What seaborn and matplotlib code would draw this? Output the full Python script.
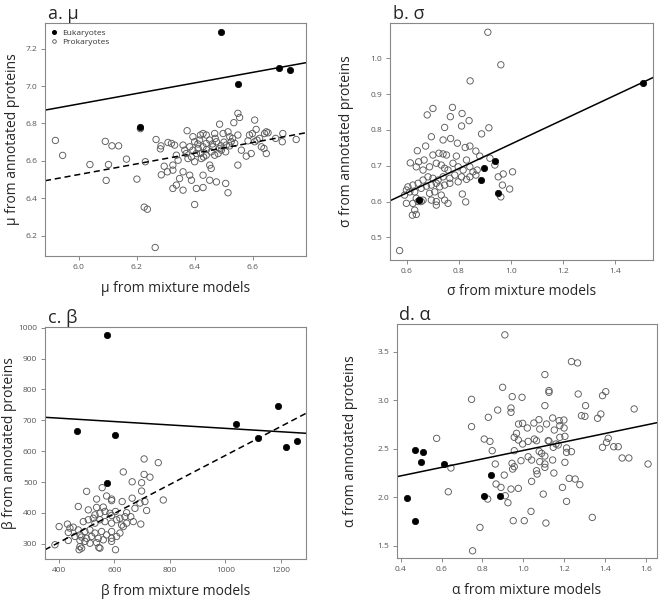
import pandas as pd
import matplotlib
matplotlib.use("Agg")
import matplotlib.pyplot as plt
import seaborn as sns
from matplotlib.lines import Line2D

# ---- panel a: mu ----
mu_pro = [
    (5.919, 6.709), (5.944, 6.629), (6.038, 6.580), (6.094, 6.495), (6.091, 6.704),
    (6.114, 6.680), (6.137, 6.680), (6.102, 6.580), (6.164, 6.609), (6.200, 6.502),
    (6.229, 6.595), (6.225, 6.352), (6.236, 6.341), (6.263, 6.136), (6.266, 6.714),
    (6.281, 6.664), (6.283, 6.680), (6.284, 6.525), (6.294, 6.571), (6.307, 6.698),
    (6.305, 6.541), (6.212, 6.772),
    (6.548, 6.854), (6.554, 6.832), (6.534, 6.804), (6.606, 6.818), (6.485, 6.796),
    (6.468, 6.746), (6.373, 6.761), (6.428, 6.746), (6.419, 6.738), (6.393, 6.729),
    (6.399, 6.702), (6.439, 6.738), (6.497, 6.746), (6.514, 6.755), (6.520, 6.729),
    (6.548, 6.738), (6.588, 6.738), (6.598, 6.746), (6.611, 6.768), (6.623, 6.720),
    (6.640, 6.746), (6.646, 6.755), (6.652, 6.750), (6.583, 6.707), (6.606, 6.702),
    (6.614, 6.711), (6.629, 6.675), (6.638, 6.666), (6.646, 6.639), (6.703, 6.746),
    (6.701, 6.702), (6.678, 6.720), (6.749, 6.714), (6.560, 6.657), (6.548, 6.577),
    (6.594, 6.639), (6.577, 6.625), (6.537, 6.693), (6.525, 6.702), (6.508, 6.684),
    (6.506, 6.648), (6.485, 6.666), (6.474, 6.702), (6.462, 6.675), (6.451, 6.711),
    (6.439, 6.693), (6.428, 6.675), (6.416, 6.711), (6.411, 6.666), (6.405, 6.639),
    (6.393, 6.657), (6.382, 6.675), (6.388, 6.621), (6.399, 6.595), (6.376, 6.612),
    (6.370, 6.639), (6.365, 6.657), (6.359, 6.684), (6.422, 6.612), (6.439, 6.630),
    (6.456, 6.648), (6.468, 6.630), (6.480, 6.639), (6.491, 6.657), (6.451, 6.577),
    (6.456, 6.559), (6.428, 6.523), (6.382, 6.523), (6.388, 6.496), (6.359, 6.541),
    (6.347, 6.505), (6.336, 6.470), (6.324, 6.452), (6.359, 6.443), (6.405, 6.452),
    (6.428, 6.457), (6.451, 6.496), (6.474, 6.487), (6.506, 6.479), (6.514, 6.429),
    (6.399, 6.366), (6.324, 6.577), (6.324, 6.550), (6.319, 6.693), (6.330, 6.684),
    (6.336, 6.630), (6.342, 6.603), (6.420, 6.640), (6.440, 6.660), (6.460, 6.690),
    (6.500, 6.700), (6.520, 6.680), (6.410, 6.690), (6.470, 6.720), (6.530, 6.720),
    (6.490, 6.680), (6.430, 6.620),
]
mu_euk = [(6.491, 7.289), (6.689, 7.096), (6.729, 7.087), (6.548, 7.009), (6.210, 6.779)]
# (slope, intercept, linestyle)
mu_fits = [(0.2822, 5.211, "-"), (0.2856, 4.813, "--")]

# ---- panel b: sigma ----
sigma_pro = [
    (0.911, 1.073), (0.961, 0.982), (0.843, 0.937),
    (0.700, 0.860), (0.678, 0.842), (0.775, 0.863), (0.767, 0.837), (0.812, 0.846),
    (0.839, 0.826), (0.810, 0.811), (0.915, 0.806), (0.745, 0.807), (0.694, 0.781),
    (0.768, 0.776), (0.887, 0.789), (0.739, 0.772), (0.672, 0.755), (0.794, 0.763),
    (0.842, 0.755), (0.824, 0.751), (0.640, 0.742), (0.865, 0.741), (0.880, 0.727),
    (0.700, 0.730), (0.723, 0.735), (0.739, 0.733), (0.752, 0.730), (0.790, 0.727),
    (0.829, 0.716), (0.613, 0.708), (0.645, 0.711), (0.666, 0.716), (0.636, 0.697),
    (0.662, 0.688), (0.687, 0.697), (0.713, 0.707), (0.732, 0.702), (0.745, 0.693),
    (0.758, 0.688), (0.777, 0.707), (0.797, 0.697), (0.816, 0.688), (0.842, 0.697),
    (0.854, 0.683), (0.865, 0.674), (0.870, 0.688), (0.842, 0.669), (0.829, 0.662),
    (0.810, 0.669), (0.784, 0.674), (0.765, 0.665), (0.739, 0.669), (0.720, 0.660),
    (0.700, 0.665), (0.681, 0.669), (0.662, 0.660), (0.643, 0.651), (0.623, 0.646),
    (0.604, 0.641), (0.598, 0.632), (0.611, 0.627), (0.591, 0.618), (0.630, 0.627),
    (0.655, 0.637), (0.675, 0.643), (0.694, 0.646), (0.713, 0.651), (0.726, 0.641),
    (0.745, 0.646), (0.765, 0.651), (0.797, 0.655), (0.687, 0.623), (0.707, 0.627),
    (0.732, 0.618), (0.745, 0.604), (0.758, 0.595), (0.713, 0.590), (0.713, 0.600),
    (0.694, 0.604), (0.662, 0.604), (0.636, 0.609), (0.649, 0.604), (0.655, 0.600),
    (0.643, 0.600), (0.623, 0.595), (0.598, 0.595), (0.630, 0.576), (0.621, 0.562),
    (0.636, 0.564), (0.813, 0.621), (0.826, 0.599), (0.572, 0.463), (0.951, 0.669),
    (0.970, 0.677), (1.006, 0.683), (0.967, 0.646), (0.961, 0.613), (0.938, 0.702),
    (0.919, 0.721), (0.995, 0.635),
]
sigma_euk = [(0.940, 0.713), (0.895, 0.695), (0.886, 0.660), (0.951, 0.623),
             (1.509, 0.930), (0.646, 0.604)]
sigma_fits = [(0.3405, 0.420, "-")]

# ---- panel c: beta ----
beta_pro = [
    (707, 575), (758, 563), (632, 533), (707, 525), (728, 516), (664, 501), (698, 498),
    (500, 470), (556, 482), (698, 471), (572, 455), (590, 445), (664, 448), (776, 442),
    (536, 445), (590, 440), (710, 437), (628, 437), (470, 421), (506, 410), (536, 418),
    (560, 419), (644, 401), (674, 415), (716, 408), (692, 432), (530, 394), (548, 399),
    (566, 405), (584, 399), (604, 405), (620, 383), (638, 388), (659, 388), (590, 392),
    (524, 383), (506, 378), (488, 372), (530, 367), (548, 378), (566, 372), (590, 367),
    (608, 378), (626, 361), (644, 367), (668, 372), (695, 364), (401, 356), (431, 364),
    (440, 351), (452, 354), (470, 345), (494, 340), (512, 345), (530, 335), (554, 340),
    (572, 329), (590, 340), (608, 324), (632, 356), (620, 335), (434, 337), (476, 329),
    (482, 322), (500, 318), (518, 324), (542, 318), (560, 313), (590, 318), (458, 324),
    (434, 311), (476, 311), (494, 308), (512, 302), (536, 304), (590, 308), (476, 291),
    (473, 281), (482, 286), (548, 286), (604, 281), (386, 297), (544, 288),
]
beta_euk = [(575, 977), (465, 666), (604, 654), (575, 497), (1037, 688), (1116, 644),
            (1188, 745), (1218, 614), (1258, 632)]
beta_fits = [(-0.0551, 729.2, "-"), (0.4702, 116.3, "--")]

# ---- panel d: alpha ----
alpha_pro = [
    (0.910, 3.672), (0.899, 3.132), (0.747, 3.008), (0.946, 3.036), (0.994, 3.029),
    (0.875, 2.898), (0.940, 2.919), (0.940, 2.874), (0.829, 2.823), (0.747, 2.727),
    (0.977, 2.754), (0.997, 2.761), (0.967, 2.658), (0.956, 2.617), (0.976, 2.589),
    (0.576, 2.606), (0.809, 2.599), (0.837, 2.575), (0.848, 2.479), (0.997, 2.548),
    (0.989, 2.376), (0.956, 2.479), (0.863, 2.342), (0.945, 2.349), (0.948, 2.290),
    (0.956, 2.314), (0.907, 2.228), (0.646, 2.301), (0.867, 2.136), (0.891, 2.101),
    (0.940, 2.084), (0.976, 2.091), (0.633, 2.056), (0.912, 2.015), (0.826, 1.981),
    (0.925, 1.943), (0.951, 1.758), (1.005, 1.758), (0.788, 1.689), (0.752, 1.448),
    (1.236, 3.397), (1.266, 3.383), (1.106, 3.263), (1.126, 3.098), (1.126, 3.080),
    (1.269, 3.063), (1.388, 3.046), (1.404, 3.087), (1.106, 2.943), (1.305, 2.943),
    (1.285, 2.840), (1.302, 2.833), (1.364, 2.813), (1.380, 2.857), (1.543, 2.909),
    (1.020, 2.713), (1.052, 2.764), (1.077, 2.799), (1.114, 2.754), (1.144, 2.816),
    (1.176, 2.788), (1.199, 2.795), (1.081, 2.702), (1.152, 2.692), (1.179, 2.737),
    (1.200, 2.713), (1.204, 2.627), (1.179, 2.617), (1.054, 2.599), (1.065, 2.582),
    (1.024, 2.575), (1.122, 2.582), (1.126, 2.578), (1.160, 2.548), (1.171, 2.538),
    (1.147, 2.514), (1.212, 2.507), (1.212, 2.462), (1.236, 2.469), (1.416, 2.607),
    (1.408, 2.565), (1.388, 2.514), (1.443, 2.520), (1.465, 2.520), (1.484, 2.404),
    (1.517, 2.404), (1.611, 2.342), (1.024, 2.417), (1.041, 2.383), (1.078, 2.472),
    (1.090, 2.452), (1.106, 2.424), (1.081, 2.366), (1.106, 2.342), (1.106, 2.307),
    (1.144, 2.383), (1.065, 2.273), (1.068, 2.239), (1.150, 2.249), (1.204, 2.359),
    (1.041, 2.163), (1.225, 2.194), (1.254, 2.187), (1.277, 2.129), (1.192, 2.101),
    (1.098, 2.032), (1.212, 1.957), (1.038, 1.854), (1.111, 1.734), (1.338, 1.792),
]
alpha_euk = [(0.429, 1.995), (0.470, 2.489), (0.508, 2.469), (0.500, 2.366), (0.470, 1.758),
             (0.610, 2.338), (0.842, 2.232), (0.809, 2.008), (0.884, 2.012)]
alpha_fits = [(0.4366, 2.045, "-")]

sns.set_theme(style="ticks")
plt.rcParams["font.family"] = ["Open Sans", "DejaVu Sans"]

fig = plt.figure(figsize=(6.61, 6.03), dpi=100)


def draw_panel(rect, title, pro, euk, fits, xlim, ylim, xticks, yticks, sym,
               ylab_x, legend=False):
    ax = fig.add_axes(rect)
    ax.set_xlim(xlim)
    ax.set_ylim(ylim)

    df = pd.DataFrame(pro + euk, columns=["x", "y"])
    df["group"] = ["Prokaryotes"] * len(pro) + ["Eukaryotes"] * len(euk)

    sns.scatterplot(data=df[df["group"] == "Prokaryotes"], x="x", y="y", ax=ax,
                    marker="o", s=21, facecolors="none", edgecolors="#5a5a5a",
                    linewidths=0.65, legend=False)
    sns.scatterplot(data=df[df["group"] == "Eukaryotes"], x="x", y="y", ax=ax,
                    marker="o", s=21, color="black", edgecolor="black",
                    linewidth=0.5, legend=False)

    for slope, intercept, ls in fits:
        ax.axline((0, intercept), slope=slope, color="black", lw=1.1, ls=ls,
                  dashes=(4, 2.5) if ls == "--" else (None, None))

    ax.set_xticks(xticks)
    ax.set_yticks(yticks)
    ax.tick_params(labelsize=6, labelcolor="#555555", color="#777777",
                   length=3, width=0.6, direction="out", pad=2.5)
    for sp in ax.spines.values():
        sp.set_color("#888888")
        sp.set_linewidth(0.8)

    ax.set_xlabel(f"{sym} from mixture models", fontsize=10, labelpad=7)
    ax.set_ylabel(f"{sym} from annotated proteins", fontsize=10, va="center")
    ax.yaxis.set_label_coords(ylab_x, 0.5)
    ax.set_title(title, loc="left", fontsize=13, pad=2, x=0.01)

    if legend:
        handles = [
            Line2D([], [], ls="", marker="o", ms=2.6, color="black"),
            Line2D([], [], ls="", marker="o", ms=2.6, mfc="none", mec="#505050", mew=0.6),
        ]
        ax.legend(handles, ["Eukaryotes", "Prokaryotes"], loc="upper left",
                  frameon=False, fontsize=6, handlelength=0.8, handletextpad=0.6,
                  labelspacing=0.15, borderaxespad=0.3, labelcolor="#333333")
    return ax


draw_panel([0.068, 0.575, 0.395, 0.387], "a. μ", mu_pro, mu_euk, mu_fits,
           (5.883, 6.783), (6.089, 7.338), [6.0, 6.2, 6.4, 6.6],
           [6.2, 6.4, 6.6, 6.8, 7.0, 7.2], "μ", -0.126, legend=True)
draw_panel([0.590, 0.569, 0.398, 0.393], "b. σ", sigma_pro, sigma_euk, sigma_fits,
           (0.535, 1.546), (0.437, 1.099), [0.6, 0.8, 1.0, 1.2, 1.4],
           [0.5, 0.6, 0.7, 0.8, 0.9, 1.0], "σ", -0.167)
draw_panel([0.068, 0.0725, 0.395, 0.3855], "c. β", beta_pro, beta_euk, beta_fits,
           (350, 1290), (250, 1003), [400, 600, 800, 1000, 1200],
           [300, 400, 500, 600, 700, 800, 900, 1000], "β", -0.134)
draw_panel([0.600, 0.074, 0.394, 0.389], "d. α", alpha_pro, alpha_euk, alpha_fits,
           (0.38, 1.655), (1.37, 3.786), [0.4, 0.6, 0.8, 1.0, 1.2, 1.4, 1.6],
           [1.5, 2.0, 2.5, 3.0, 3.5], "α", -0.177)

fig.savefig("out.png", dpi=100)
